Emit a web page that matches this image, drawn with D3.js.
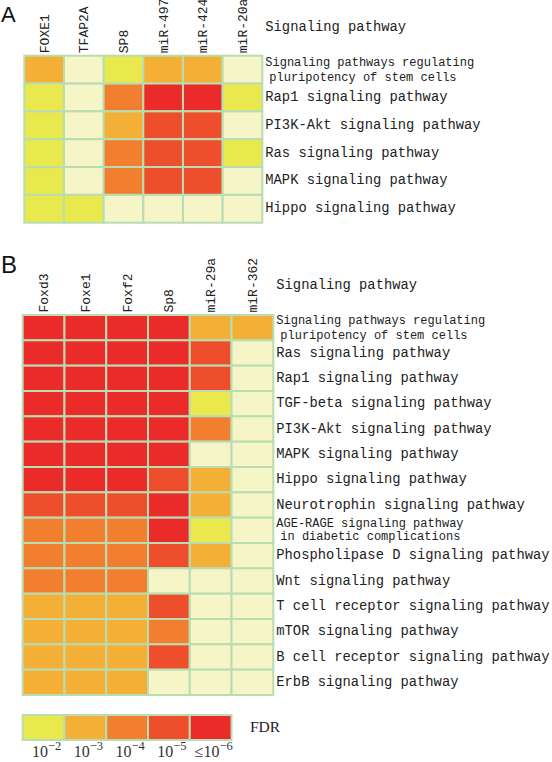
<!DOCTYPE html>
<html><head><meta charset="utf-8">
<script src="https://cdn.jsdelivr.net/npm/d3@7"></script>
<style>
body{margin:0;background:#fff;}
svg{display:block;}
.lbl{font-family:"Liberation Mono",monospace;fill:#222;}
.pan{font-family:"Liberation Sans",Arial,sans-serif;fill:#111;}
</style></head>
<body>
<svg id="c" width="552" height="762"></svg>
<script>
// ---- data ----
const levels = [0,1,2,3,4,5]; // 0 = not significant, 1 = 1e-2 ... 5 = <=1e-6
const levelColors = ["#F5F5C7","#E9E84D","#F4AF36","#F27F30","#EE4E2B","#EB2A2A"];

const colsA = ["FOXE1","TFAP2A","SP8","miR-497","miR-424","miR-20a"];
const rowsA = ["Signaling pathways regulating\npluripotency of stem cells",
  "Rap1 signaling pathway","PI3K-Akt signaling pathway","Ras signaling pathway",
  "MAPK signaling pathway","Hippo signaling pathway"];
const valuesA = [
  [2,0,1,2,2,0],
  [1,0,3,5,5,1],
  [1,0,2,4,4,0],
  [1,0,3,4,4,1],
  [1,0,3,4,4,0],
  [1,1,0,0,0,0]
];

const colsB = ["Foxd3","Foxe1","Foxf2","Sp8","miR-29a","miR-362"];
const rowsB = ["Signaling pathways regulating\npluripotency of stem cells",
  "Ras signaling pathway","Rap1 signaling pathway","TGF-beta signaling pathway",
  "PI3K-Akt signaling pathway","MAPK signaling pathway","Hippo signaling pathway",
  "Neurotrophin signaling pathway","AGE-RAGE signaling pathway\nin diabetic complications",
  "Phospholipase D signaling pathway","Wnt signaling pathway",
  "T cell receptor signaling pathway","mTOR signaling pathway",
  "B cell receptor signaling pathway","ErbB signaling pathway"];
const valuesB = [
  [5,5,5,5,2,2],
  [5,5,5,5,4,0],
  [5,5,5,5,4,0],
  [5,5,5,5,1,0],
  [5,5,5,5,3,0],
  [5,5,5,5,0,0],
  [5,5,5,4,2,0],
  [4,4,4,5,2,0],
  [3,3,3,5,1,0],
  [3,3,3,4,2,0],
  [3,3,3,0,0,0],
  [2,2,2,4,0,0],
  [2,2,2,3,0,0],
  [2,2,2,4,0,0],
  [2,2,2,0,0,0]
];

const legendLevels = [1,2,3,4,5];
const legendBase = ["10","10","10","10","\u226410"];
const legendExp = ["\u22122","\u22123","\u22124","\u22125","\u22126"];
const rowHeader = "Signaling pathway";
const legendTitle = "FDR";

// ---- drawing ----
const svg = d3.select("#c");
const color = d3.scaleOrdinal().domain(levels).range(levelColors);
const grid = "#B9DDB1";

function panel(letter, letterPos, cols, rows, vals, box) {
  const g = svg.append("g");
  const x = d3.scaleBand().domain(cols).range([box.x0, box.x1]);
  const y = d3.scaleBand().domain(rows.map((r,i)=>i)).range([box.y0, box.y1]);
  const cells = [];
  vals.forEach((row,i)=>row.forEach((v,j)=>cells.push({i,j,v})));
  g.selectAll("rect.cell").data(cells).join("rect")
    .attr("class","cell")
    .attr("x",d=>x(cols[d.j])).attr("y",d=>y(d.i))
    .attr("width",x.bandwidth()).attr("height",y.bandwidth())
    .attr("fill",d=>color(d.v))
    .attr("stroke",grid).attr("stroke-width",2);
  // column labels
  g.selectAll("text.col").data(cols).join("text")
    .attr("class","lbl col")
    .attr("transform",d=>`translate(${x(d)+x.bandwidth()/2+4.5},${box.y0-2.5}) rotate(-90)`)
    .attr("font-size",box.colFont)
    .text(d=>d);
  // row labels
  const rl = g.selectAll("text.row").data(rows).join("text")
    .attr("class","lbl row")
    .attr("x",box.x1+3)
    .attr("y",(d,i)=>y(i)+y.bandwidth()/2)
    .attr("font-size",d=>d.includes("\n")?12:13.8)
    .attr("dominant-baseline","central");
  rl.each(function(d){
    const t = d3.select(this);
    const parts = d.split("\n");
    if (parts.length===1) { t.text(d); return; }
    const y0 = +t.attr("y");
    t.append("tspan").attr("x",box.x1+3).attr("y",y0-6.5).text(parts[0]);
    t.append("tspan").attr("x",box.x1+7).attr("y",y0+(box.secondDy[d]||7.5)).text(parts[1]);
  });
  g.append("text").attr("class","lbl").attr("x",box.x1+3).attr("y",box.headerY)
    .attr("font-size",13.8).attr("dominant-baseline","central").text(rowHeader);
  g.append("text").attr("class","pan").attr("x",letterPos[0]).attr("y",letterPos[1])
    .attr("font-size",letterPos[2]).text(letter);
  return x;
}

panel("A",[1,21.5,22],colsA,rowsA,valuesA,
  {x0:24.3,x1:262.3,y0:55.7,y1:222.7,colFont:13,headerY:27.3,
   secondDy:{"Signaling pathways regulating\npluripotency of stem cells":8.5}});
const xB = panel("B",[1,272.5,24],colsB,rowsB,valuesB,
  {x0:22.7,x1:273.3,y0:315,y1:695,colFont:13,headerY:285.7,
   secondDy:{"Signaling pathways regulating\npluripotency of stem cells":8.5,
             "AGE-RAGE signaling pathway\nin diabetic complications":6.4}});

// legend
const lg = svg.append("g");
const lx = d3.scaleBand().domain(legendLevels).range([22.7, 22.7+5*xB.bandwidth()]);
lg.selectAll("rect").data(legendLevels).join("rect")
  .attr("x",d=>lx(d)).attr("y",715).attr("width",lx.bandwidth()).attr("height",25)
  .attr("fill",d=>color(d)).attr("stroke",grid).attr("stroke-width",2);
const lt = lg.selectAll("text.tick").data(legendLevels).join("text")
  .attr("class","tick")
  .attr("x",d=>lx(d)+lx.bandwidth()/2+3)
  .attr("y",757)
  .attr("text-anchor","middle")
  .style("font-family","'Liberation Serif',serif").style("fill","#333");
lt.append("tspan").attr("font-size",16).text((d,i)=>legendBase[i]);
lt.append("tspan").attr("font-size",12.5).attr("dy",-7.5).text((d,i)=>legendExp[i]);
lg.append("text").attr("x",250).attr("y",732)
  .style("font-family","'Liberation Serif',serif").attr("font-size",15.5).style("fill","#222")
  .text(legendTitle);
</script>
</body></html>
